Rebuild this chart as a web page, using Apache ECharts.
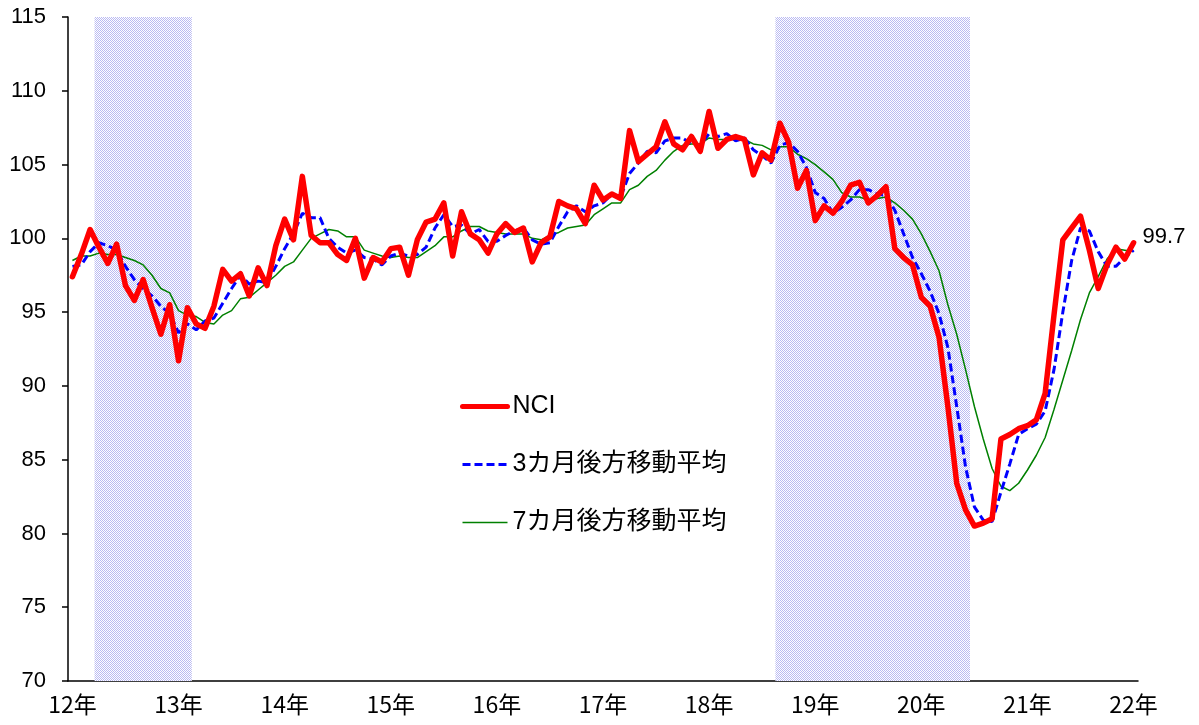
<!DOCTYPE html>
<html>
<head>
<meta charset="utf-8">
<script src="https://cdn.jsdelivr.net/npm/echarts@6/dist/echarts.min.js"></script>
<style>html,body{margin:0;padding:0;background:#fff;}#c{width:1199px;height:725px;}</style>
</head>
<body>
<div id="c"></div>
<script>
// NCI monthly values, 2012/1 - 2022/1
const nci = [97.4,98.9,100.6,99.4,98.3,99.6,96.8,95.8,97.2,95.3,93.5,95.5,
  91.7,95.3,94.2,93.9,95.4,97.9,97.1,97.6,96.1,98.0,96.8,99.5,
  101.3,99.9,104.2,100.2,99.7,99.7,98.9,98.5,100.0,97.3,98.7,98.4,
  99.3,99.4,97.5,99.9,101.1,101.3,102.4,98.8,101.8,100.3,99.9,99.0,
  100.3,101.0,100.4,100.7,98.4,99.7,100.1,102.5,102.2,102.0,101.0,103.6,
  102.6,103.0,102.7,107.3,105.2,105.7,106.2,107.9,106.4,106.0,106.9,105.9,
  108.6,106.1,106.7,106.9,106.7,104.3,105.8,105.3,107.8,106.5,103.4,104.6,
  101.2,102.2,101.7,102.5,103.6,103.8,102.4,102.9,103.5,99.3,98.7,98.2,
  96.0,95.4,93.3,88.6,83.4,81.6,80.5,80.7,81.0,86.4,86.7,87.1,
  87.3,87.7,89.5,94.8,99.9,100.7,101.5,99.2,96.6,98.2,99.4,98.6,
  99.7];
// 3-month backward moving average
const ma3 = [98.1,98.2,99.1,99.7,99.5,99.2,98.1,97.2,96.6,96.1,95.4,94.9,
  93.6,94.2,93.8,94.4,94.6,95.6,96.6,97.5,96.9,97.1,97.0,98.1,
  99.3,100.3,101.7,101.4,101.4,100.0,99.4,99.0,99.2,98.7,98.6,98.2,
  98.8,99.0,98.8,98.9,99.4,100.7,101.6,100.8,100.9,100.3,100.6,99.8,
  99.8,100.2,100.5,100.7,99.9,99.6,99.7,100.8,101.8,102.2,101.8,102.2,
  102.4,103.0,102.8,104.4,105.1,105.9,105.8,106.6,106.8,106.8,106.4,106.3,
  107.1,106.9,107.1,106.6,106.8,106.0,105.6,105.1,106.3,106.5,105.9,104.8,
  103.1,102.7,101.7,102.1,102.6,103.3,103.3,103.0,102.9,101.9,100.3,98.7,
  97.6,96.4,94.9,92.6,88.6,84.5,81.8,80.9,80.8,82.8,84.7,86.7,
  87.1,87.4,88.3,91.1,95.0,98.5,100.7,100.5,99.1,98.1,98.1,98.7,
  99.2];
// 7-month backward moving average
const ma7 = [98.5,98.8,98.8,99.0,98.9,98.9,98.7,98.5,98.2,97.5,96.6,96.3,
  95.1,94.8,94.7,94.3,94.2,94.8,95.1,95.9,96.0,96.5,97.0,97.5,
  98.1,98.4,99.2,100.0,100.3,100.6,100.5,100.1,100.1,99.2,99.0,98.8,
  98.7,98.8,98.7,98.7,99.1,99.5,100.1,100.1,100.5,100.8,100.8,100.5,
  100.4,100.3,100.3,100.3,100.0,99.9,100.2,100.4,100.7,100.8,100.9,101.6,
  102.0,102.4,102.4,103.3,103.6,104.2,104.6,105.3,105.9,106.3,106.4,106.4,
  106.8,106.7,106.7,106.7,106.7,106.4,106.3,106.0,106.2,106.2,105.7,105.4,
  105.0,104.5,104.0,103.1,102.8,102.8,102.6,102.7,102.8,102.4,101.9,101.3,
  100.3,99.1,97.8,95.5,93.5,91.1,88.6,86.4,84.4,83.2,82.9,83.4,
  84.3,85.3,86.5,88.4,90.4,92.4,94.5,96.3,97.4,98.6,99.3,99.2,
  99.1];
const yearLabels = ['12年','13年','14年','15年','16年','17年','18年','19年','20年','21年','22年'];
const seriesNames = ['NCI','3カ月後方移動平均','7カ月後方移動平均'];
const recessions = [['2012/4','2013/2'],['2018/9','2020/6']];
const startYear = 2012;

const categories = nci.map((_, i) => (startYear + Math.floor(i / 12)) + '/' + (i % 12 + 1));

// checkered shading pattern
const pc = document.createElement('canvas');
pc.width = 2; pc.height = 2;
const pctx = pc.getContext('2d');
pctx.fillStyle = '#ffffff'; pctx.fillRect(0, 0, 2, 2);
pctx.fillStyle = 'rgb(186,186,242)';
pctx.fillRect(0, 0, 1, 1); pctx.fillRect(1, 1, 1, 1);

const styles = {
  nci: {color: '#ff0000', width: 5.5},
  ma3: {color: '#0000ff', width: 3, type: [8, 4]},
  ma7: {color: '#008000', width: 1.5}
};

const chart = echarts.init(document.getElementById('c'), null, {renderer: 'canvas'});
const lastIdx = nci.length - 1;
chart.setOption({
  animation: false,
  backgroundColor: '#fff',
  grid: {left: 68, right: 61, top: 17, bottom: 44, containLabel: false},
  legend: {
    orient: 'vertical', left: 455, top: 389, itemGap: 33,
    itemWidth: 45, itemHeight: 14,
    data: [
      {name: seriesNames[0], lineStyle: {width: 5, color: '#ff0000', cap: 'round'}},
      {name: seriesNames[1], lineStyle: {width: 3, color: '#0000ff', type: [8, 4]}},
      {name: seriesNames[2], lineStyle: {width: 1.5, color: '#008000'}}
    ],
    itemStyle: {opacity: 0},
    textStyle: {fontSize: 25, color: '#000', fontFamily: "'Liberation Sans', 'Noto Sans CJK JP', sans-serif", lineHeight: 24}
  },
  xAxis: [{
    type: 'category', data: categories, boundaryGap: true,
    axisLine: {onZero: false, lineStyle: {color: '#000', width: 1.5}},
    axisTick: {show: false},
    axisLabel: {
      interval: 11, margin: 12, color: '#000', fontSize: 23,
      fontFamily: "'Noto Sans CJK JP', sans-serif",
      formatter: (v, i) => yearLabels[i / 12]
    },
    splitLine: {show: false}
  }, {
    type: 'value', min: -0.5, max: nci.length - 0.5, show: false,
    splitLine: {show: false}
  }],
  yAxis: {
    type: 'value', min: 70, max: 115, interval: 5,
    axisLine: {show: true, onZero: false, lineStyle: {color: '#000', width: 1.5}},
    axisTick: {show: true, length: 6, lineStyle: {color: '#000', width: 1.5}},
    axisLabel: {margin: 22, color: '#000', fontSize: 22, fontFamily: "'Liberation Sans', sans-serif"},
    splitLine: {show: false}
  },
  series: [
    {
      name: '_shade', type: 'line', data: [], z: 1, silent: true, xAxisIndex: 1,
      markArea: {
        silent: true,
        itemStyle: {color: {image: pc, repeat: 'repeat'}},
        data: recessions.map(r => [
          {xAxis: categories.indexOf(r[0]) - 0.5},
          {xAxis: categories.indexOf(r[1]) + 0.5}
        ])
      }
    },
    {
      name: seriesNames[2], type: 'line', data: ma7, z: 3,
      symbol: 'none', showSymbol: false,
      lineStyle: styles.ma7,
      itemStyle: {color: styles.ma7.color}
    },
    {
      name: seriesNames[1], type: 'line', data: ma3, z: 4,
      symbol: 'none', showSymbol: false,
      lineStyle: styles.ma3,
      itemStyle: {color: styles.ma3.color}
    },
    {
      name: seriesNames[0], type: 'line', data: nci, z: 5,
      symbol: 'none', showSymbol: false,
      lineStyle: Object.assign({join: 'round', cap: 'round'}, styles.nci),
      itemStyle: {color: styles.nci.color},
      endLabel: {
        show: true, distance: 9, offset: [0, -6],
        formatter: p => nci[lastIdx].toFixed(1),
        color: '#000', fontSize: 22, fontFamily: "'Liberation Sans', sans-serif"
      }
    }
  ]
});
</script>
</body>
</html>
